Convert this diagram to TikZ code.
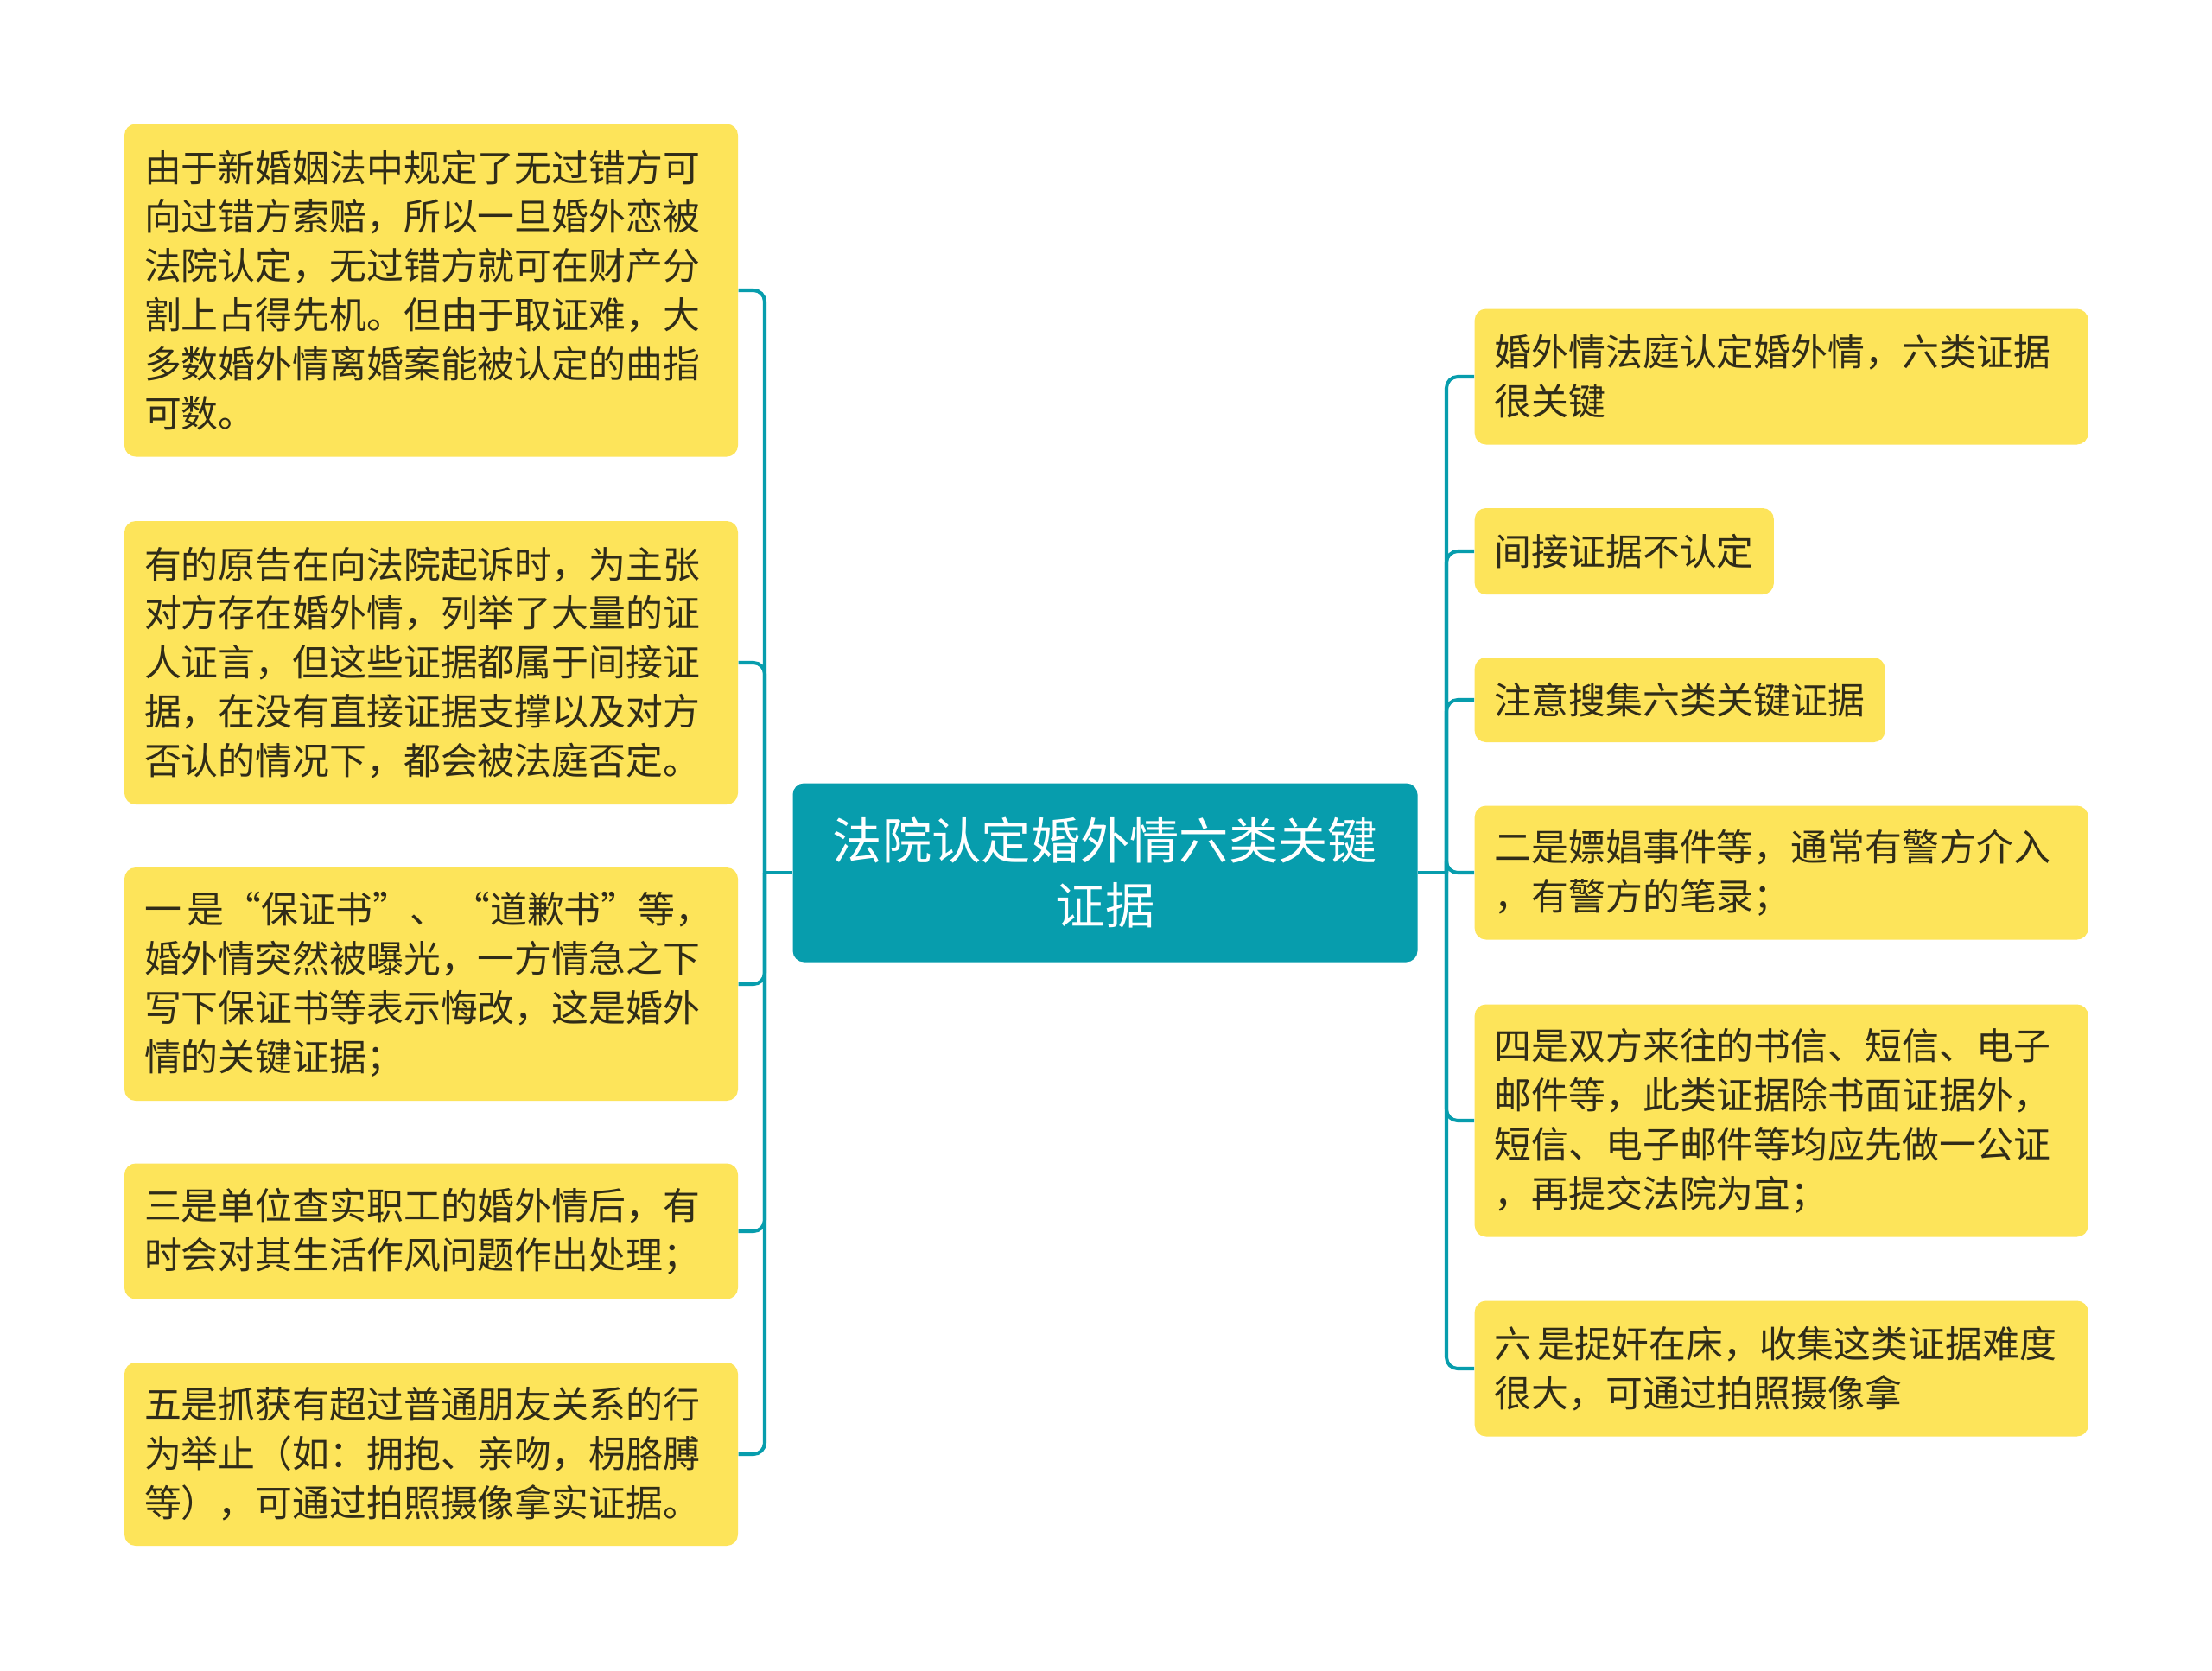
\documentclass[tikz,border=0pt]{standalone}
\usepackage{fontspec}
\newfontfamily\cjk{Noto Sans CJK SC}
\definecolor{leafyellow}{RGB}{253,228,90}
\definecolor{rootteal}{RGB}{7,157,173}
\definecolor{inkdark}{RGB}{48,44,24}

\begin{document}
\begin{tikzpicture}[
    rootbox/.style={rectangle, rounded corners=0.13cm, fill=rootteal, text=white, align=center,
        minimum width=7.23cm, minimum height=2.07cm, font=\cjk\fontsize{16.3pt}{21.3pt}\selectfont},
    leaf/.style={rectangle, rounded corners=0.13cm, fill=leafyellow, text=inkdark, align=left,
        inner xsep=0.23cm, inner ysep=0.1cm, font=\cjk\fontsize{12.2pt}{16.2pt}\selectfont},
    wideleaf/.style={leaf, text width=6.64cm},
    link/.style={draw=rootteal, line width=1.15pt, rounded corners=0.13cm}
]
    \useasboundingbox (0,0) rectangle (25.6,-19.34);
    \fill[white] (0,0) rectangle (25.6,-19.34);

    \node[rootbox] (root) at (12.79,-10.10) {法院认定婚外情六类关键\\证据};

    % left side
    \node[wideleaf, minimum height=3.85cm] (l1) at (4.99,-3.36) {由于新婚姻法中规定了无过错方可\\向过错方索赔，所以一旦婚外恋被\\法院认定，无过错方就可在财产分\\割上占得先机。但由于取证难，大\\多数婚外情离婚案能被认定的曲指\\可数。};
    \node[wideleaf, minimum height=3.28cm] (l2) at (4.99,-7.67) {有的原告在向法院起诉时，为主张\\对方存在婚外情，列举了大量的证\\人证言，但这些证据都属于间接证\\据，在没有直接证据支撑以及对方\\否认的情况下，都会被法庭否定。};
    \node[wideleaf, minimum height=2.70cm] (l3) at (4.99,-11.39) {一\,是“保证书”、\,“道歉书”等，\\婚外情突然被曝光，一方情急之下\\写下保证书等表示悔改，这是婚外\\情的关键证据；};
    \node[wideleaf, minimum height=1.57cm] (l4) at (4.99,-14.25) {三是单位查实职工的婚外情后，有\\时会对其生活作风问题作出处理；};
    \node[wideleaf, minimum height=2.12cm] (l5) at (4.99,-16.83) {五是抓获有超过普通朋友关系的行\\为举止（如：拥抱、亲吻，枴胳膊\\等），可通过拍照摄像拿实证据。};

    % right side
    \node[wideleaf, anchor=west, minimum height=1.57cm] (r1) at (17.06,-4.36) {婚外情法庭认定婚外情，六类证据\\很关键};
    \node[leaf, anchor=west, minimum height=1.0cm] (r2) at (17.06,-6.38) {间接证据不认定};
    \node[leaf, anchor=west, minimum height=0.98cm] (r3) at (17.06,-8.10) {注意搜集六类关键证据};
    \node[wideleaf, anchor=west, minimum height=1.55cm] (r4) at (17.06,-10.10) {二是嫖娼事件等，通常有警方介入\\，有警方的笔录；};
    \node[wideleaf, anchor=west, minimum height=2.69cm] (r5) at (17.06,-12.97) {四是双方来往的书信、短信、电子\\邮件等，此类证据除书面证据外，\\短信、电子邮件等均应先做一公证\\，再提交法院为宜；};
    \node[wideleaf, anchor=west, minimum height=1.57cm] (r6) at (17.06,-15.84) {六\,是捉奸在床，收集这类证据难度\\很大，可通过拍照摄像拿};

    % connectors
    \coordinate (lj) at (8.85,-10.10);
    \coordinate (rj) at (16.74,-10.10);
    \draw[link] (root.west) -- (lj);
    \draw[link] (root.east) -- (rj);
    \foreach \n in {l1,l2,l3,l4,l5}
        \draw[link] (lj) |- (\n.east);
    \foreach \n in {r1,r2,r3,r4,r5,r6}
        \draw[link] (rj) |- (\n.west);
\end{tikzpicture}
\end{document}
